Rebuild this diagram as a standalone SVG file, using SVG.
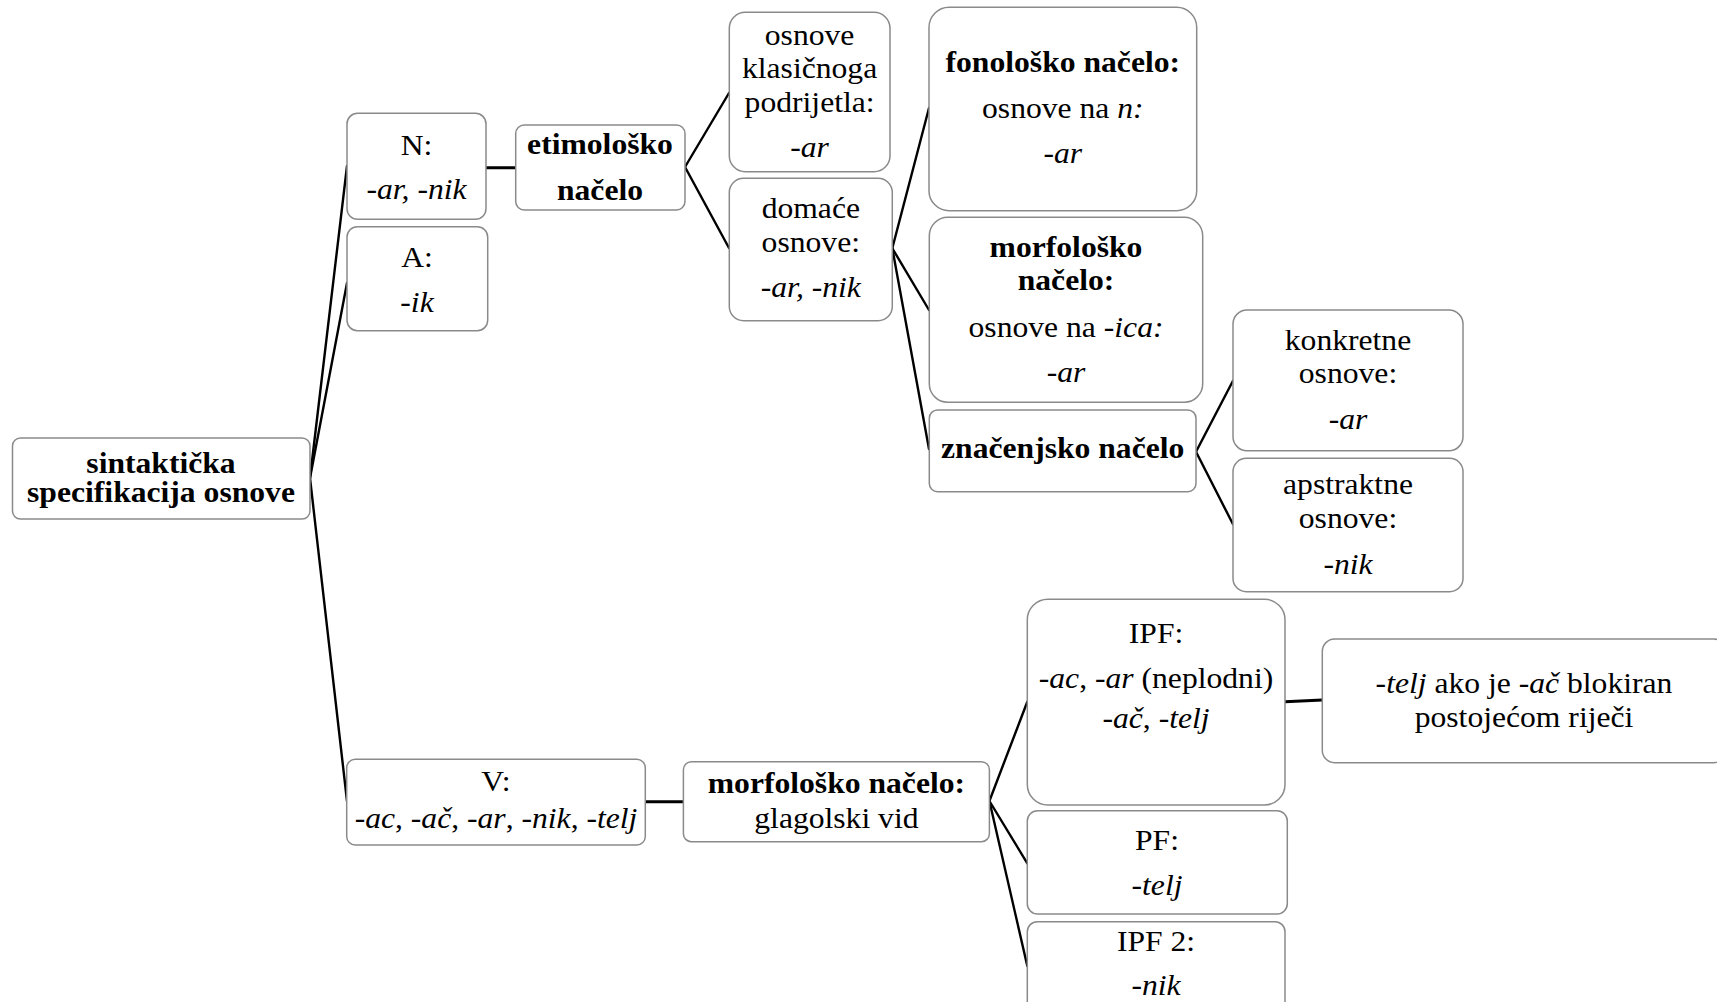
<svg xmlns="http://www.w3.org/2000/svg" width="1717" height="1002" viewBox="0 0 1717 1002">
<style>
.box{fill:#fff;stroke:#8a8a8a;stroke-width:1.5}
.t{font-family:"Liberation Serif","Times New Roman",serif;font-size:28.5px;text-anchor:middle;fill:#000}
.b{font-weight:bold}
.i{font-style:italic}
.c{stroke:#000;stroke-width:2.4;fill:none;stroke-linecap:round}
</style>
<rect width="1717" height="1002" fill="#fff"/>
<g id="connectors">
<line class="c" x1="310" y1="478" x2="347" y2="166"/>
<line class="c" x1="310" y1="478" x2="347" y2="283"/>
<line class="c" x1="310" y1="478" x2="347" y2="801"/>
<line class="c" x1="486" y1="167.7" x2="516" y2="167.7" style="stroke-width:3"/>
<line class="c" x1="685" y1="167" x2="729" y2="93"/>
<line class="c" x1="685" y1="167" x2="729" y2="248"/>
<line class="c" x1="892.3" y1="248.3" x2="929" y2="108"/>
<line class="c" x1="892.3" y1="248.3" x2="929" y2="310"/>
<line class="c" x1="892.3" y1="248.3" x2="929" y2="449"/>
<line class="c" x1="1196" y1="451.7" x2="1233" y2="380.7"/>
<line class="c" x1="1196" y1="451.7" x2="1233" y2="524.3"/>
<line class="c" x1="645.3" y1="801.7" x2="683.4" y2="801.7" style="stroke-width:3"/>
<line class="c" x1="989.4" y1="801" x2="1027.3" y2="701.7"/>
<line class="c" x1="989.4" y1="801" x2="1027.3" y2="863.3"/>
<line class="c" x1="989.4" y1="801" x2="1027.3" y2="966"/>
<line class="c" x1="1285" y1="701.7" x2="1322.3" y2="700" style="stroke-width:3"/>
</g>
<g id="root">
<rect class="box" x="12.5" y="438" width="297.5" height="81" rx="8"/>
<text class="t b" transform="matrix(1.11 0 0 1 161 0)" y="473.3">sintaktička</text>
<text class="t b" transform="matrix(1.11 0 0 1 161 0)" y="501.7">specifikacija osnove</text>
</g>
<g id="n">
<rect class="box" x="347" y="113.3" width="139" height="106" rx="10.6"/>
<text class="t" transform="matrix(1.11 0 0 1 416.5 0)" y="155">N:</text>
<text class="t i" transform="matrix(1.11 0 0 1 416.5 0)" y="199.3">-ar, -nik</text>
</g>
<g id="a">
<rect class="box" x="347" y="226.7" width="140.7" height="104" rx="10.4"/>
<text class="t" transform="matrix(1.11 0 0 1 417 0)" y="266.7">A:</text>
<text class="t i" transform="matrix(1.11 0 0 1 417 0)" y="311.7">-ik</text>
</g>
<g id="etim">
<rect class="box" x="515.7" y="125" width="169.3" height="85" rx="8.5"/>
<text class="t b" transform="matrix(1.11 0 0 1 600 0)" y="154">etimološko</text>
<text class="t b" transform="matrix(1.11 0 0 1 600 0)" y="200">načelo</text>
</g>
<g id="klas">
<rect class="box" x="729.3" y="12.3" width="160.7" height="159.4" rx="16"/>
<text class="t" transform="matrix(1.11 0 0 1 809.6 0)" y="45">osnove</text>
<text class="t" transform="matrix(1.11 0 0 1 809.6 0)" y="78.3">klasičnoga</text>
<text class="t" transform="matrix(1.11 0 0 1 809.6 0)" y="111.7">podrijetla:</text>
<text class="t i" transform="matrix(1.11 0 0 1 809.6 0)" y="157">-ar</text>
</g>
<g id="domace">
<rect class="box" x="729.3" y="178.3" width="163" height="142.4" rx="14.2"/>
<text class="t" transform="matrix(1.11 0 0 1 810.8 0)" y="218.3">domaće</text>
<text class="t" transform="matrix(1.11 0 0 1 810.8 0)" y="251.7">osnove:</text>
<text class="t i" transform="matrix(1.11 0 0 1 810.8 0)" y="296.7">-ar, -nik</text>
</g>
<g id="fonolosko">
<rect class="box" x="929" y="7.3" width="267.7" height="203.4" rx="20"/>
<text class="t b" transform="matrix(1.11 0 0 1 1062.8 0)" y="71.7">fonološko načelo:</text>
<text class="t" transform="matrix(1.11 0 0 1 1062.8 0)" y="118.3">osnove na <tspan class="i">n:</tspan></text>
<text class="t i" transform="matrix(1.11 0 0 1 1062.8 0)" y="163.3">-ar</text>
</g>
<g id="morfolosko">
<rect class="box" x="929.3" y="217.3" width="273.4" height="185" rx="18.5"/>
<text class="t b" transform="matrix(1.11 0 0 1 1066 0)" y="256.7">morfološko</text>
<text class="t b" transform="matrix(1.11 0 0 1 1066 0)" y="290">načelo:</text>
<text class="t" transform="matrix(1.11 0 0 1 1066 0)" y="336.7">osnove na <tspan class="i">-ica:</tspan></text>
<text class="t i" transform="matrix(1.11 0 0 1 1066 0)" y="381.7">-ar</text>
</g>
<g id="znacenjsko">
<rect class="box" x="929.3" y="410" width="266.7" height="81.7" rx="8.2"/>
<text class="t b" transform="matrix(1.11 0 0 1 1062.7 0)" y="458.3">značenjsko načelo</text>
</g>
<g id="konkretne">
<rect class="box" x="1233" y="310" width="230" height="140.7" rx="14"/>
<text class="t" transform="matrix(1.11 0 0 1 1348 0)" y="350">konkretne</text>
<text class="t" transform="matrix(1.11 0 0 1 1348 0)" y="383.3">osnove:</text>
<text class="t i" transform="matrix(1.11 0 0 1 1348 0)" y="429.3">-ar</text>
</g>
<g id="apstraktne">
<rect class="box" x="1233" y="458.3" width="230" height="133.4" rx="13.3"/>
<text class="t" transform="matrix(1.11 0 0 1 1348 0)" y="494">apstraktne</text>
<text class="t" transform="matrix(1.11 0 0 1 1348 0)" y="528.3">osnove:</text>
<text class="t i" transform="matrix(1.11 0 0 1 1348 0)" y="574">-nik</text>
</g>
<g id="v">
<rect class="box" x="346.7" y="759.3" width="298.6" height="85.7" rx="8.6"/>
<text class="t" transform="matrix(1.11 0 0 1 496 0)" y="790.7">V:</text>
<text class="t" transform="matrix(1.11 0 0 1 496 0)" y="828.3"><tspan class="i">-ac</tspan>, <tspan class="i">-ač</tspan>, <tspan class="i">-ar</tspan>, <tspan class="i">-nik</tspan>, <tspan class="i">-telj</tspan></text>
</g>
<g id="morf-vid">
<rect class="box" x="683.4" y="761.7" width="306" height="80" rx="8"/>
<text class="t b" transform="matrix(1.11 0 0 1 836.4 0)" y="793.3">morfološko načelo:</text>
<text class="t" transform="matrix(1.11 0 0 1 836.4 0)" y="828.3">glagolski vid</text>
</g>
<g id="ipf">
<rect class="box" x="1027.3" y="599.3" width="257.7" height="205.7" rx="20.6"/>
<text class="t" transform="matrix(1.11 0 0 1 1156 0)" y="643.3">IPF:</text>
<text class="t" transform="matrix(1.11 0 0 1 1156 0)" y="688.3"><tspan class="i">-ac</tspan>, <tspan class="i">-ar</tspan> (neplodni)</text>
<text class="t" transform="matrix(1.11 0 0 1 1156 0)" y="728.3"><tspan class="i">-ač</tspan>, <tspan class="i">-telj</tspan></text>
</g>
<g id="pf">
<rect class="box" x="1027.3" y="810.7" width="260" height="103.3" rx="10.3"/>
<text class="t" transform="matrix(1.11 0 0 1 1157 0)" y="850">PF:</text>
<text class="t i" transform="matrix(1.11 0 0 1 1157 0)" y="895">-telj</text>
</g>
<g id="ipf2">
<rect class="box" x="1027.3" y="921.7" width="257.7" height="100" rx="10"/>
<text class="t" transform="matrix(1.11 0 0 1 1156 0)" y="950.7">IPF 2:</text>
<text class="t i" transform="matrix(1.11 0 0 1 1156 0)" y="995">-nik</text>
</g>
<g id="telj">
<rect class="box" x="1322.3" y="639" width="404" height="123.7" rx="12.4"/>
<text class="t" transform="matrix(1.11 0 0 1 1524 0)" y="693.3"><tspan class="i">-telj</tspan> ako je <tspan class="i">-ač</tspan> blokiran</text>
<text class="t" transform="matrix(1.11 0 0 1 1524 0)" y="727.3">postojećom riječi</text>
</g>
</svg>
